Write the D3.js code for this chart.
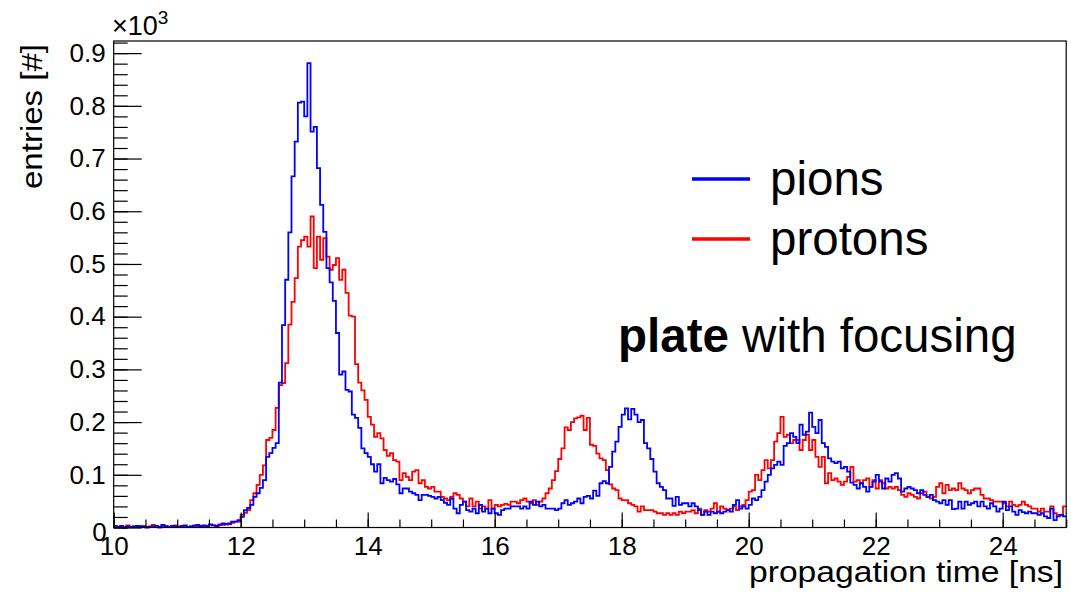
<!DOCTYPE html>
<html>
<head>
<meta charset="utf-8">
<script src="https://cdn.jsdelivr.net/npm/d3@7"></script>
<style>
  body { margin: 0; background: #fff; }
  svg { display: block; font-family: "Liberation Sans", Arial, sans-serif; }
</style>
</head>
<body>
<div id="chart"></div>
<script>
// histogram binning (ns)
const binStart = 10;
const binWidth = 0.05;

// entries per bin, pions (blue)
const pions = [
  2,1,3,0,2,1,2,3,1,2, 0,1,2,3,1,5,2,1,3,2, 1,2,4,1,2,3,5,2,4,3, 6,4,3,5,8,6,
  8,11,11,14,20,33,37,43,58,65,
  75,90,134,141,151,160,275,384,470,560,
  666,732,806,808,780,881,751,760,682,612,
  561,492,465,430,369,290,296,261,258,214,
  208,189,150,141,134,120,106,120,84,94,
  90,87,92,82,65,74,74,68,65,62,
  52,62,62,60,58,55,58,52,47,43,
  55,36,27,43,49,33,30,36,27,43,
  30,36,27,36,27,24,33,36,36,40,
  40,40,
  36,40,36,49,43,49,40,43,36,36,
  36,33,36,46,52,43,46,49,55,46,
  58,60,55,70,60,84,88,84,115,144,
  163,191,214,226,205,225,214,200,204,160,
  150,130,106,
  84,77,71,55,55,41,58,43,46,
  46,40,46,40,33,24,30,24,30,27,
  30,27,30,33,30,43,52,36,40,36,
  43,55,52,58,71,87,100,112,119,125,
  119,155,160,179,172,160,
  195,176,182,218,191,179,204,160,153,131,
  125,122,125,112,115,106,85,81,74,84,
  77,68,77,87,100,87,74,93,87,100,
  103,93,68,74,77,74,71,65,71,62,
  58,62,52,49,
  46,52,43,52,35,36,49,36,49,43,
  46,49,40,49,40,36,46,40,30,36,
  49,33,40,30,24,33,29,27,30,27,
  27,24,27,21,18,36,14,21,24,21
];

// entries per bin, protons (red)
const protons = [
  3,1,2,0,4,1,2,1,3,2, 1,2,5,1,0,2,3,1,2,4, 1,3,2,1,2,4,2,3,1,3, 5,4,2,6,5,7,
  6,9,11,11,24,28,33,52,65,81,
  100,118,166,170,185,227,270,274,312,385,
  428,473,533,545,552,533,590,492,552,508,
  549,514,489,498,511,470,489,445,402,400,
  310,275,260,242,210,195,172,179,169,147,
  136,141,128,125,90,103,96,90,106,109,
  84,90,77,74,77,68,68,58,55,52,
  58,65,62,55,49,40,55,40,49,36,
  40,36,52,36,43,40,43,45,43,49,
  49,46,
  52,55,49,46,52,43,49,55,65,74,
  90,107,130,150,190,185,200,207,209,212,
  185,208,157,155,140,131,128,109,82,74,
  71,55,52,52,46,43,40,30,40,33,
  33,33,30,
  27,27,24,27,24,27,24,30,27,
  30,30,33,27,36,24,33,30,36,46,
  30,40,36,33,36,40,33,40,43,52,
  68,71,100,90,109,128,112,128,163,179,
  210,172,176,160,166,166,
  147,166,176,147,166,134,115,134,84,103,
  90,93,87,81,87,96,115,87,90,84,
  90,93,77,90,74,90,84,74,77,74,
  77,71,62,58,65,62,58,55,65,68,
  58,55,58,77,
  84,65,81,71,74,71,84,74,71,65,
  71,74,74,62,55,55,52,49,49,49,
  46,40,49,43,40,43,49,43,40,36,
  36,30,36,30,30,40,27,24,24,40
];

const xTicks = [10, 12, 14, 16, 18, 20, 22, 24];
const yTicks = [0, 100, 200, 300, 400, 500, 600, 700, 800, 900];
const yTickLabels = ["0", "0.1", "0.2", "0.3", "0.4", "0.5", "0.6", "0.7", "0.8", "0.9"];
const seriesNames = ["pions", "protons"];
const seriesColors = ["#0000ff", "#ff0000"];

const W = 1071, H = 593;
const frame = {left: 113.7, right: 1066.2, top: 41, bottom: 527.5};

const svg = d3.select("#chart").append("svg")
    .attr("width", W)
    .attr("height", H);

const x = d3.scaleLinear().domain([10, 25]).range([frame.left, frame.right]);
const y = d3.scaleLinear().domain([0, 923]).range([frame.bottom, frame.top]);

// histograms as step lines
function steps(vals) {
    const pts = vals.map((v, i) => [binStart + i * binWidth, v]);
    pts.push([binStart + vals.length * binWidth, vals[vals.length - 1]]);
    return pts;
}
const line = d3.line()
    .x(d => x(d[0]))
    .y(d => y(d[1]))
    .curve(d3.curveStepAfter);

svg.append("path")
    .datum(steps(protons))
    .attr("d", line)
    .attr("fill", "none")
    .attr("stroke", seriesColors[1])
    .attr("stroke-width", 1.8);

svg.append("path")
    .datum(steps(pions))
    .attr("d", line)
    .attr("fill", "none")
    .attr("stroke", seriesColors[0])
    .attr("stroke-width", 1.8);

// frame
svg.append("rect")
    .attr("x", frame.left).attr("y", frame.top)
    .attr("width", frame.right - frame.left).attr("height", frame.bottom - frame.top)
    .attr("fill", "none")
    .attr("stroke", "#000")
    .attr("stroke-width", 1.2);

// x axis (ticks pointing inward)
const xMinor = svg.append("g")
    .attr("transform", `translate(0,${frame.bottom})`)
    .call(d3.axisBottom(x).tickValues(d3.range(10, 25.01, 0.5)).tickSize(-8).tickFormat(""));
const xMajor = svg.append("g")
    .attr("transform", `translate(0,${frame.bottom})`)
    .call(d3.axisBottom(x).tickValues(xTicks).tickSize(-15).tickPadding(9).tickFormat(d3.format("d")));

// y axis (ticks pointing inward)
const yMinor = svg.append("g")
    .attr("transform", `translate(${frame.left},0)`)
    .call(d3.axisLeft(y).tickValues(d3.range(0, 921, 20)).tickSize(-14).tickFormat(""));
const yMajor = svg.append("g")
    .attr("transform", `translate(${frame.left},0)`)
    .call(d3.axisLeft(y).tickValues(yTicks).tickSize(-28).tickPadding(8)
        .tickFormat((d, i) => yTickLabels[i]));

[xMinor, xMajor, yMinor, yMajor].forEach(g => {
    g.select(".domain").remove();
    g.selectAll("line").attr("stroke", "#000").attr("stroke-width", 1.2);
    g.selectAll("text").attr("font-size", 26).attr("font-family", "Liberation Sans, Arial, sans-serif").attr("fill", "#000");
});
yMajor.selectAll("text").filter(d => d === 0).attr("dy", "0.5em").attr("x", -7);

// axis titles
svg.append("text")
    .attr("x", 1063).attr("y", 582)
    .attr("text-anchor", "end")
    .attr("font-size", 29)
    .attr("textLength", 314)
    .attr("lengthAdjust", "spacingAndGlyphs")
    .text("propagation time [ns]");

svg.append("text")
    .attr("transform", "rotate(-90)")
    .attr("x", -44).attr("y", 42)
    .attr("text-anchor", "end")
    .attr("font-size", 29)
    .attr("textLength", 145)
    .attr("lengthAdjust", "spacingAndGlyphs")
    .text("entries [#]");

// exponent
const ex = svg.append("text")
    .attr("x", 112).attr("y", 35)
    .attr("font-size", 27);
ex.append("tspan").text("\u00d710");
ex.append("tspan").attr("font-size", 19).attr("dy", -11).text("3");

// legend
const legendY = [179, 239];
const legendBase = [195, 255];
seriesNames.forEach((name, i) => {
    svg.append("line")
        .attr("x1", 692).attr("x2", 750)
        .attr("y1", legendY[i]).attr("y2", legendY[i])
        .attr("stroke", seriesColors[i])
        .attr("stroke-width", 3.5);
    svg.append("text")
        .attr("x", 770).attr("y", legendBase[i])
        .attr("font-size", 47.5)
        .text(name);
});

const note = svg.append("text")
    .attr("x", 618).attr("y", 352)
    .attr("font-size", 47.5);
note.append("tspan").attr("font-weight", "bold").text("plate");
note.append("tspan").text(" with focusing");
</script>
</body>
</html>
